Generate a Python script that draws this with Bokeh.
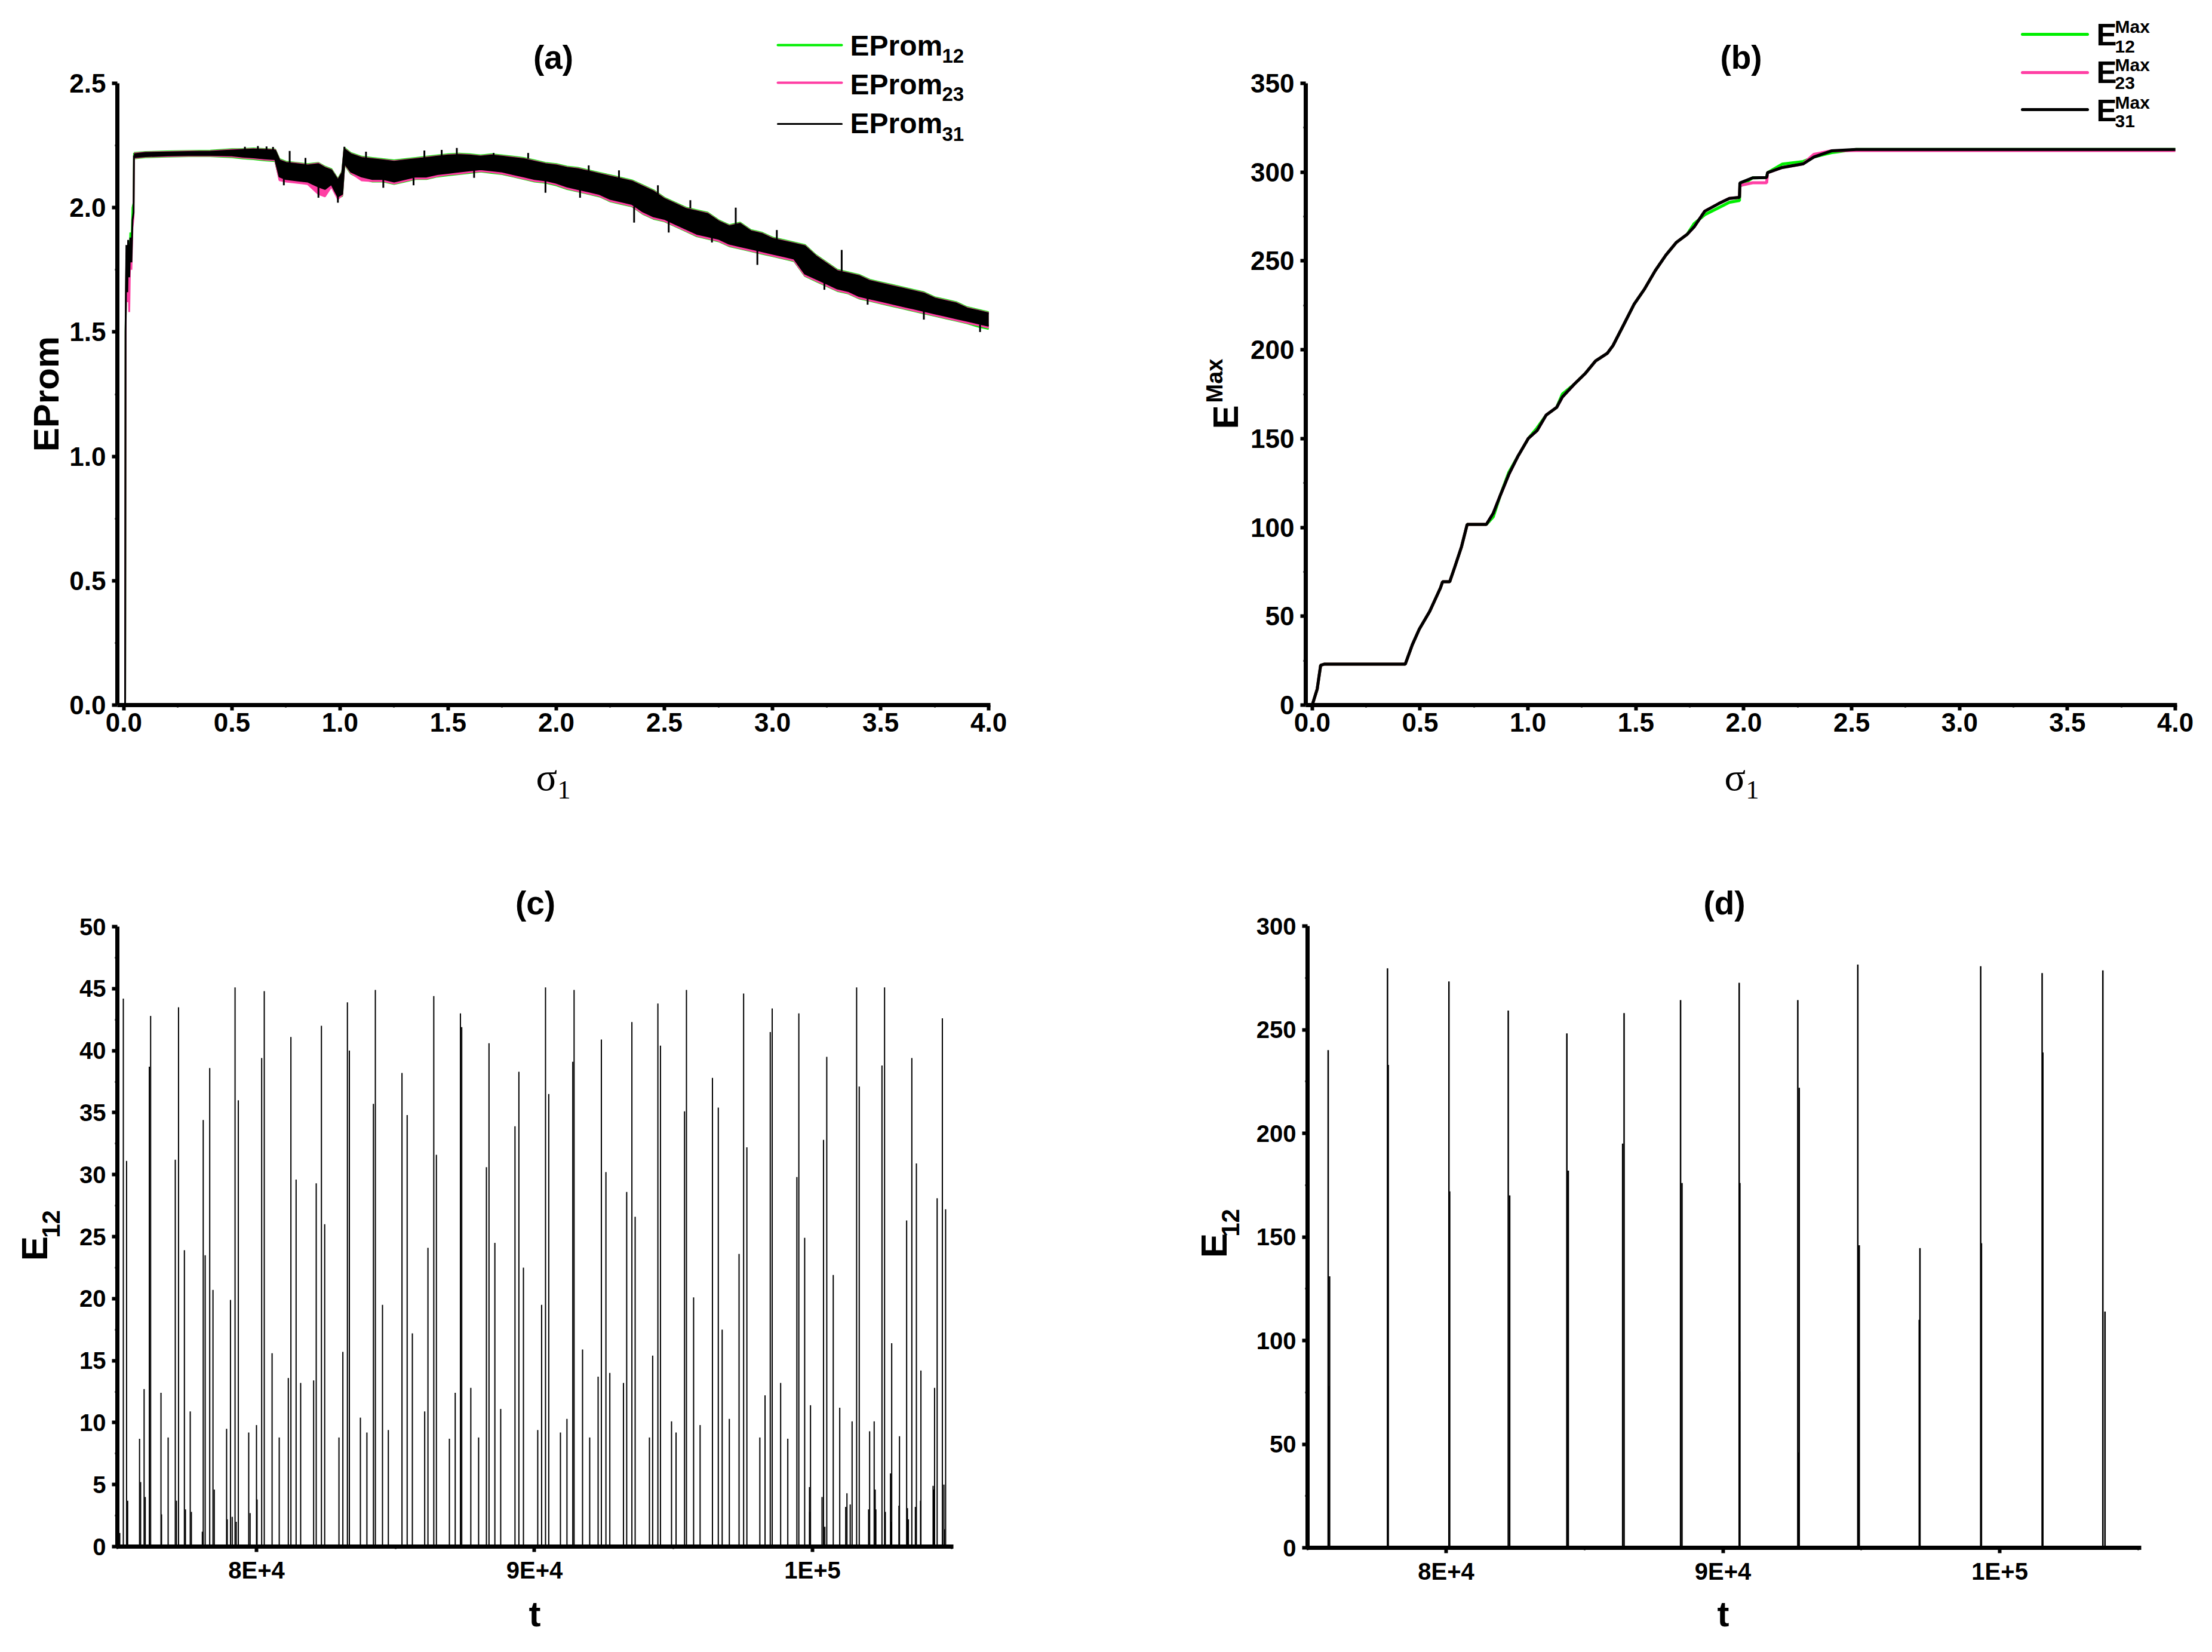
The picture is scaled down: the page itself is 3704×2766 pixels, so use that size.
from math import pi
from bokeh.plotting import figure
from bokeh.layouts import column, row
from bokeh.models import Range1d, FixedTicker, Label, Arrow, PrintfTickFormatter
from bokeh.embed import file_html
from bokeh.resources import INLINE

# ---------------- data: panel (a) ----------------
sigma_a_start = [0.000, 0.006, 0.008, 0.012, 0.016, 0.020, 0.025, 0.030, 0.035, 0.040, 0.045, 0.047]
eprom12_start = [0.0, 0.0, 1.50, 1.80, 1.70, 1.85, 1.75, 1.90, 1.85, 2.00, 2.02, 2.22]
eprom23_start = [0.0, 0.0, 1.48, 1.82, 1.62, 1.80, 1.58, 1.85, 1.75, 1.92, 1.96, 2.21]
eprom31_start = [0.0, 0.0, 1.50, 1.85, 1.66, 1.87, 1.72, 1.88, 1.78, 1.95, 1.98, 2.21]

sigma_band = [0.047, 0.10, 0.20, 0.30, 0.40, 0.50, 0.55, 0.60, 0.65, 0.70,
              0.72, 0.75, 0.80, 0.85, 0.90, 0.93, 0.96, 0.99, 1.01, 1.02,
              1.05, 1.10, 1.15, 1.20, 1.25, 1.30, 1.35, 1.40, 1.45, 1.50,
              1.55, 1.60, 1.65, 1.70, 1.75, 1.80, 1.85, 1.90, 1.95, 2.00,
              2.05, 2.10, 2.15, 2.20, 2.25, 2.30, 2.35, 2.40, 2.45, 2.50,
              2.55, 2.60, 2.65, 2.70, 2.75, 2.80, 2.85, 2.90, 2.95, 3.00,
              3.05, 3.10, 3.15, 3.20, 3.25, 3.30, 3.35, 3.40, 3.45, 3.50,
              3.55, 3.60, 3.65, 3.70, 3.75, 3.80, 3.85, 3.90, 3.95, 4.00]
eprom31_hi = [2.215, 2.220, 2.222, 2.224, 2.225, 2.230, 2.232, 2.234, 2.232, 2.230,
              2.190, 2.180, 2.175, 2.170, 2.175, 2.160, 2.150, 2.110, 2.140, 2.235,
              2.215, 2.200, 2.195, 2.190, 2.185, 2.190, 2.195, 2.200, 2.205, 2.210,
              2.212, 2.210, 2.205, 2.210, 2.205, 2.200, 2.195, 2.185, 2.175, 2.170,
              2.160, 2.155, 2.145, 2.135, 2.125, 2.115, 2.105, 2.085, 2.065, 2.035,
              2.015, 1.995, 1.985, 1.975, 1.945, 1.925, 1.935, 1.905, 1.895, 1.875,
              1.865, 1.855, 1.845, 1.805, 1.775, 1.745, 1.735, 1.725, 1.705, 1.695,
              1.685, 1.675, 1.665, 1.655, 1.635, 1.625, 1.615, 1.595, 1.585, 1.575]
eprom31_lo = [2.203, 2.207, 2.210, 2.212, 2.212, 2.210, 2.205, 2.202, 2.198, 2.195,
              2.125, 2.115, 2.110, 2.105, 2.085, 2.075, 2.095, 2.045, 2.055, 2.180,
              2.145, 2.125, 2.115, 2.115, 2.105, 2.115, 2.125, 2.125, 2.135, 2.140,
              2.145, 2.150, 2.155, 2.150, 2.145, 2.135, 2.125, 2.115, 2.110, 2.100,
              2.085, 2.075, 2.065, 2.055, 2.035, 2.025, 2.015, 1.985, 1.965, 1.955,
              1.935, 1.915, 1.895, 1.885, 1.875, 1.855, 1.845, 1.835, 1.825, 1.815,
              1.805, 1.795, 1.735, 1.715, 1.695, 1.675, 1.665, 1.645, 1.635, 1.625,
              1.615, 1.605, 1.595, 1.585, 1.575, 1.565, 1.555, 1.545, 1.535, 1.525]
eprom12_hi = [2.220, 2.224, 2.226, 2.228, 2.229, 2.235, 2.236, 2.238, 2.236, 2.234,
              2.195, 2.185, 2.180, 2.175, 2.180, 2.165, 2.155, 2.115, 2.145, 2.240,
              2.220, 2.205, 2.200, 2.195, 2.190, 2.195, 2.200, 2.205, 2.210, 2.215,
              2.217, 2.215, 2.210, 2.215, 2.210, 2.205, 2.200, 2.190, 2.180, 2.175,
              2.165, 2.160, 2.150, 2.140, 2.130, 2.120, 2.110, 2.090, 2.070, 2.040,
              2.020, 2.000, 1.990, 1.980, 1.950, 1.930, 1.940, 1.910, 1.900, 1.880,
              1.870, 1.860, 1.850, 1.810, 1.780, 1.750, 1.740, 1.730, 1.710, 1.700,
              1.690, 1.680, 1.670, 1.660, 1.640, 1.630, 1.620, 1.600, 1.590, 1.580]
eprom12_lo = [2.198, 2.203, 2.205, 2.207, 2.207, 2.203, 2.198, 2.195, 2.190, 2.187,
              2.115, 2.107, 2.102, 2.097, 2.077, 2.067, 2.087, 2.040, 2.047, 2.175,
              2.137, 2.115, 2.105, 2.105, 2.095, 2.105, 2.115, 2.115, 2.125, 2.130,
              2.135, 2.140, 2.145, 2.140, 2.135, 2.125, 2.115, 2.105, 2.100, 2.090,
              2.075, 2.065, 2.055, 2.045, 2.025, 2.015, 2.005, 1.975, 1.955, 1.945,
              1.925, 1.905, 1.885, 1.875, 1.865, 1.845, 1.835, 1.825, 1.815, 1.805,
              1.795, 1.785, 1.725, 1.705, 1.685, 1.665, 1.655, 1.635, 1.625, 1.615,
              1.605, 1.595, 1.585, 1.575, 1.565, 1.555, 1.545, 1.535, 1.522, 1.512]
eprom23_hi = [2.218, 2.222, 2.224, 2.226, 2.227, 2.233, 2.234, 2.236, 2.234, 2.232,
              2.192, 2.182, 2.178, 2.172, 2.178, 2.162, 2.152, 2.112, 2.142, 2.237,
              2.217, 2.202, 2.197, 2.192, 2.187, 2.192, 2.197, 2.202, 2.207, 2.212,
              2.214, 2.212, 2.207, 2.212, 2.207, 2.202, 2.197, 2.187, 2.177, 2.172,
              2.162, 2.157, 2.147, 2.137, 2.127, 2.117, 2.107, 2.087, 2.067, 2.037,
              2.017, 1.997, 1.987, 1.977, 1.947, 1.927, 1.937, 1.907, 1.897, 1.877,
              1.867, 1.857, 1.847, 1.807, 1.777, 1.747, 1.737, 1.727, 1.707, 1.697,
              1.687, 1.677, 1.667, 1.657, 1.637, 1.627, 1.617, 1.597, 1.587, 1.577]
eprom23_lo = [2.200, 2.205, 2.207, 2.209, 2.209, 2.206, 2.201, 2.198, 2.193, 2.190,
              2.110, 2.105, 2.100, 2.095, 2.055, 2.045, 2.085, 2.035, 2.050, 2.178,
              2.140, 2.110, 2.107, 2.107, 2.097, 2.107, 2.117, 2.117, 2.127, 2.133,
              2.137, 2.143, 2.147, 2.143, 2.137, 2.127, 2.117, 2.107, 2.103, 2.093,
              2.077, 2.067, 2.057, 2.047, 2.027, 2.017, 2.007, 1.977, 1.957, 1.947,
              1.927, 1.907, 1.887, 1.877, 1.867, 1.847, 1.837, 1.827, 1.817, 1.807,
              1.797, 1.787, 1.727, 1.707, 1.687, 1.667, 1.657, 1.637, 1.627, 1.617,
              1.607, 1.597, 1.587, 1.577, 1.567, 1.557, 1.547, 1.537, 1.527, 1.517]

# individual noise spikes sticking out of the EProm31 band (sigma, band edge, tip)
spike_sigma = [0.56, 0.62, 0.66, 0.69, 0.767, 0.84, 1.02, 1.12, 1.39, 1.47, 1.54, 1.71, 1.87,
               2.15, 2.29, 2.47, 2.62, 2.83, 3.02, 3.32,
               0.74, 0.90, 0.99, 1.20, 1.34, 1.62, 1.95, 2.11, 2.36, 2.52, 2.72, 2.93, 3.24,
               3.44, 3.70, 3.96]
spike_base = [2.232, 2.234, 2.232, 2.230, 2.178, 2.172, 2.235, 2.198, 2.200, 2.208, 2.212,
              2.208, 2.197, 2.145, 2.115, 2.055, 1.997, 1.930, 1.872, 1.745,
              2.120, 2.085, 2.045, 2.115, 2.120, 2.150, 2.110, 2.075, 2.005, 1.950,
              1.885, 1.835, 1.705, 1.650, 1.585, 1.530]
spike_tip = [2.245, 2.248, 2.246, 2.244, 2.228, 2.200, 2.245, 2.225, 2.230, 2.232, 2.240,
             2.220, 2.220, 2.170, 2.150, 2.090, 2.030, 2.000, 1.910, 1.830,
             2.090, 2.040, 2.020, 2.080, 2.090, 2.120, 2.060, 2.040, 1.940, 1.900,
             1.860, 1.770, 1.670, 1.610, 1.550, 1.500]

# ---------------- data: panel (b) ----------------
sigma_b = [0.000, 0.023, 0.039, 0.055, 0.431, 0.464, 0.496, 0.545, 0.594, 0.604,
           0.637, 0.660, 0.692, 0.718, 0.807, 0.839, 0.872, 0.911, 0.953, 1.002,
           1.042, 1.084, 1.133, 1.159, 1.215, 1.264, 1.313, 1.368, 1.394, 1.443,
           1.492, 1.541, 1.590, 1.639, 1.688, 1.737, 1.770, 1.819, 1.884, 1.933,
           1.980, 1.982, 2.041, 2.106, 2.110, 2.178, 2.276, 2.325, 2.407, 2.521, 4.000]
emax31 = [0.0, 9.0, 22.4, 23.0, 23.0, 34.0, 42.7, 52.9, 65.9, 69.4,
          69.4, 77.5, 89.2, 101.7, 101.7, 108.0, 118.2, 129.8, 140.0, 150.2,
          154.5, 163.2, 167.6, 173.4, 180.7, 186.5, 193.7, 198.1, 202.4, 214.0,
          225.7, 234.4, 244.6, 253.3, 260.5, 264.9, 269.2, 278.0, 282.3, 285.2,
          285.8, 293.9, 296.8, 297.0, 299.7, 302.6, 304.7, 308.5, 312.0, 312.8, 312.8]
emax12 = [0.0, 9.0, 22.4, 23.0, 23.0, 34.0, 42.7, 52.9, 65.9, 69.4,
          69.4, 77.5, 89.2, 101.7, 101.7, 106.0, 118.2, 131.0, 140.0, 150.2,
          156.0, 163.2, 167.6, 175.0, 180.7, 186.5, 193.7, 198.1, 202.4, 214.0,
          225.7, 234.4, 244.6, 253.3, 260.5, 264.9, 271.0, 276.0, 280.0, 283.0,
          284.0, 292.0, 296.8, 297.0, 299.7, 304.5, 306.0, 308.5, 311.0, 312.8, 312.8]
emax23 = [0.0, 9.0, 22.4, 23.0, 23.0, 34.0, 42.7, 52.9, 65.9, 69.4,
          69.4, 77.5, 89.2, 101.7, 101.7, 108.0, 118.2, 129.8, 140.0, 150.2,
          154.5, 163.2, 167.6, 173.4, 180.7, 186.5, 193.7, 198.1, 202.4, 214.0,
          225.7, 234.4, 244.6, 253.3, 260.5, 264.9, 269.2, 278.0, 282.3, 285.2,
          285.8, 292.5, 294.0, 294.0, 299.7, 302.6, 304.7, 310.0, 312.0, 312.2, 312.2]

# ---------------- data: panel (c) ----------------
t_c = [75210, 75327, 75794, 75958, 76145, 76192, 76565, 76822, 77079, 77196,
       77407, 77617, 78084, 78154, 78318, 78435, 78925, 79065, 79229, 79346,
       79720, 80000, 80187, 80280, 80561, 80818, 81145, 81238, 81425, 81589,
       82056, 82149, 82336, 82453, 82967, 83107, 83271, 83341, 83738, 83972,
       84206, 84276, 84533, 84743, 85234, 85420, 85607, 86051, 86168, 86378,
       86472, 86939, 87149, 87336, 87383, 87710, 87990, 88271, 88364, 88575,
       88785, 89299, 89439, 89603, 90117, 90257, 90397, 90514, 90934, 91168,
       91378, 91425, 91729, 91986, 92289, 92406, 92570, 92710, 93201, 93317,
       93504, 93621, 94135, 94252, 94439, 94532, 94930, 95093, 95397, 95467,
       95724, 95958, 96402, 96612, 96752, 97009, 97359, 97523, 97640, 98107,
       98294, 98481, 98551, 98855, 99112, 99439, 99509, 99719, 99929, 100397,
       100514, 100747, 100981, 101425, 101588, 101682, 102056, 102219, 102500, 102593,
       102850, 103130, 103387, 103574, 103738, 103901, 104392, 104485, 104672, 104789]
e12_c = [44.2, 31.1, 8.7, 12.7, 38.7, 42.8, 12.4, 8.8, 31.2, 43.5,
         23.9, 10.9, 34.4, 23.5, 38.6, 20.7, 9.5, 19.9, 45.1, 36.0,
         9.2, 9.8, 39.4, 44.8, 15.6, 8.8, 13.6, 41.1, 29.6, 13.2,
         13.4, 29.3, 42.0, 26.0, 8.8, 15.7, 43.9, 40.0, 10.4, 9.2,
         35.7, 44.9, 19.5, 9.4, 38.2, 34.8, 17.2, 10.9, 24.1, 44.4,
         31.6, 8.7, 12.4, 43.0, 41.9, 12.8, 8.8, 30.6, 40.6, 24.5,
         11.1, 33.9, 38.3, 22.5, 9.4, 19.5, 45.1, 36.5, 9.2, 10.3,
         39.1, 44.9, 15.9, 8.8, 13.7, 40.9, 30.2, 14.0, 13.2, 28.6,
         42.3, 26.6, 8.8, 15.4, 43.8, 40.4, 10.1, 9.2, 35.1, 44.9,
         20.1, 9.8, 37.8, 35.4, 17.5, 10.3, 23.6, 44.6, 32.2, 8.8,
         12.2, 41.5, 43.4, 13.2, 8.7, 29.8, 43.0, 24.9, 11.4, 32.8,
         39.5, 21.9, 11.2, 10.1, 45.1, 37.1, 9.3, 10.1, 38.8, 45.1,
         16.4, 8.9, 26.3, 39.4, 30.9, 14.2, 12.8, 28.1, 42.6, 27.2]
# small oscillations near zero (read from the bottom strip)
t_c_small = [75081, 75366, 75832, 75998, 76584, 77121, 77444, 77658, 78052, 78481,
             78947, 79126, 79270, 79770, 80021, 99893, 99900, 100344, 100444, 101196,
             101240, 101357, 102019, 102255, 102280, 102620, 102807, 102830, 103110, 103416,
             103450, 103702, 103888, 104339, 104360, 104727, 104745]
e12_c_small = [1.1, 3.7, 5.2, 4.0, 2.6, 3.7, 3.0, 2.8, 1.2, 4.6,
               2.2, 2.4, 2.0, 2.7, 3.8, 4.8, 2.8, 4.0, 1.6, 3.2,
               4.3, 3.4, 3.0, 4.6, 3.0, 2.8, 5.9, 2.0, 3.3, 3.1,
               2.2, 3.2, 3.7, 4.9, 4.6, 5.0, 1.4]

# ---------------- data: panel (d) ----------------
t_d = [75740, 75791, 75765, 77883, 77909, 80102, 80128, 82245, 82296, 84362, 84413,
       86429, 86378, 88469, 88520, 90587, 90612, 90600, 92704, 92755, 92730,
       94872, 94923, 94900, 97117, 97092, 99311, 99337, 99325, 101530, 101556,
       103724, 103801]
e12_d = [240.1, 131.0, 78.0, 279.6, 233.0, 273.3, 172.0, 259.2, 170.0, 248.2, 182.0,
         258.0, 195.0, 264.3, 176.0, 272.6, 176.0, 85.0, 264.3, 222.0, 46.0,
         281.4, 146.0, 82.0, 144.6, 110.0, 280.6, 147.0, 49.0, 277.3, 239.0,
         278.6, 114.0]

# ---------------- ticks ----------------
sigma_ticks = [0.0, 0.5, 1.0, 1.5, 2.0, 2.5, 3.0, 3.5, 4.0]
sigma_minor = [0.25, 0.75, 1.25, 1.75, 2.25, 2.75, 3.25, 3.75]
eprom_ticks = [0.0, 0.5, 1.0, 1.5, 2.0, 2.5]
eprom_minor = [0.25, 0.75, 1.25, 1.75, 2.25]
emax_ticks = [0, 50, 100, 150, 200, 250, 300, 350]
emax_minor = [25, 75, 125, 175, 225, 275, 325]
ec_ticks = [0, 5, 10, 15, 20, 25, 30, 35, 40, 45, 50]
ec_minor = [2.5, 7.5, 12.5, 17.5, 22.5, 27.5, 32.5, 37.5, 42.5, 47.5]
ed_ticks = [0, 50, 100, 150, 200, 250, 300]
ed_minor = [25, 75, 125, 175, 225, 275]
t_ticks = [80000, 90000, 100000]
t_minor = [75000, 85000, 95000, 105000]
t_labels = {80000: "8E+4", 90000: "9E+4", 100000: "1E+5"}

GREEN = "#00ee00"
PINK = "#ff3fa4"
SANS = "Liberation Sans"
SERIF = "Liberation Serif"

W, H = 1852, 1383


def make_fig(origin, area, xdata, ydata):
    """origin: figure top-left on page; area: plot-area (L, R, T, B) on page;
    xdata/ydata: data values at the plot-area edges."""
    ox, oy = origin
    L, R, T, B = area
    l, r, t, b = L - ox, R - ox, T - oy, B - oy
    x0, x1 = xdata
    y0, y1 = ydata
    sx = (r - l) / (x1 - x0)
    sy = (b - t) / (y1 - y0)
    xr = Range1d(x0 - l / sx, x1 + (W - r) / sx)
    yr = Range1d(y0 - (H - b) / sy, y1 + t / sy)
    p = figure(width=W, height=H, x_range=xr, y_range=yr,
               output_backend="svg", toolbar_location=None, title=None,
               min_border=0, min_border_left=0, min_border_right=0,
               min_border_top=0, min_border_bottom=0)
    p.outline_line_color = None
    p.xgrid.visible = False
    p.ygrid.visible = False
    p.background_fill_color = "white"
    p.border_fill_color = "white"
    xa, ya = p.xaxis[0], p.yaxis[0]
    xa.fixed_location = y0
    ya.fixed_location = x0
    xa.bounds = (x0, x1)
    ya.bounds = (y0, y1)
    return p


def style_axes(p, fs, xstand, ystand):
    for ax in (p.xaxis[0], p.yaxis[0]):
        ax.axis_line_width = 7
        ax.axis_line_color = "black"
        ax.major_tick_line_width = 6
        ax.major_tick_out = 9
        ax.major_tick_in = 0
        ax.minor_tick_line_width = 3
        ax.minor_tick_out = 4
        ax.minor_tick_in = 0
        ax.major_label_text_font = SANS
        ax.major_label_text_font_style = "bold"
        ax.major_label_text_font_size = f"{fs}px"
        ax.major_label_text_color = "black"
    p.xaxis[0].major_label_standoff = xstand
    p.yaxis[0].major_label_standoff = ystand


class Placer:
    """Places annotations by page coordinates (frame == whole figure canvas)."""
    def __init__(self, p, origin):
        self.p = p
        self.ox, self.oy = origin

    def text(self, X, Y, txt, size, font=SANS, bold=True, align="left",
             baseline="middle", angle=0.0):
        self.p.add_layout(Label(x=X - self.ox, y=self.oy + H - Y, x_units="screen", y_units="screen",
                                text=txt, text_font=font, text_font_size=f"{size}px",
                                text_font_style="bold" if bold else "normal",
                                text_align=align, text_baseline=baseline, angle=angle,
                                text_color="black"))

    def hline(self, X0, X1, Y, color, width):
        self.p.add_layout(Arrow(end=None, x_start=X0 - self.ox, y_start=self.oy + H - Y,
                                x_end=X1 - self.ox, y_end=self.oy + H - Y,
                                start_units="screen", end_units="screen",
                                line_color=color, line_width=width, line_cap="round"))


# ================= panel (a) =================
OA = (0, 0)
pa = make_fig(OA, (196, 1658, 139, 1180), (-0.03, 4.008), (0.0, 2.5))
for ys_start, hi, lo, col in ((eprom12_start, eprom12_hi, eprom12_lo, GREEN),
                              (eprom23_start, eprom23_hi, eprom23_lo, PINK),
                              (eprom31_start, eprom31_hi, eprom31_lo, "black")):
    pa.line(sigma_a_start, ys_start, line_color=col, line_width=3)
    pa.varea(x=sigma_band, y1=lo, y2=hi, fill_color=col)
    pa.line(sigma_band, hi, line_color=col, line_width=3)
    pa.line(sigma_band, lo, line_color=col, line_width=3)
pa.segment(x0=spike_sigma, y0=spike_base, x1=spike_sigma, y1=spike_tip,
           line_color="black", line_width=3)
pa.xaxis[0].ticker = FixedTicker(ticks=sigma_ticks, minor_ticks=sigma_minor)
pa.yaxis[0].ticker = FixedTicker(ticks=eprom_ticks, minor_ticks=eprom_minor)
pa.xaxis[0].formatter = PrintfTickFormatter(format="%.1f")
pa.yaxis[0].formatter = PrintfTickFormatter(format="%.1f")
style_axes(pa, 44, 4, 10)
A = Placer(pa, OA)
A.text(926, 95, "(a)", 55, align="center")
A.text(77, 659, "EProm", 60, align="center", angle=pi / 2)
A.text(897, 1300, "σ", 66, font=SERIF, bold=False)
A.text(933, 1322, "1", 44, font=SERIF, bold=False)
A.hline(1302, 1409, 75, GREEN, 4)
A.hline(1302, 1409, 138, PINK, 4)
A.hline(1302, 1409, 207, "black", 3)
for ym, ys, txt in ((76, 93, "12"), (141, 157, "23"), (206, 224, "31")):
    A.text(1423, ym, "EProm", 48)
    A.text(1577, ys, txt, 33)

# ================= panel (b) =================
OB = (W, 0)
pb = make_fig(OB, (2186, 3645, 139, 1180), (-0.03, 4.008), (0, 350))
pb.line(sigma_b, emax12, line_color=GREEN, line_width=5)
pb.line(sigma_b, emax23, line_color=PINK, line_width=5)
pb.line(sigma_b, emax31, line_color="black", line_width=5)
pb.xaxis[0].ticker = FixedTicker(ticks=sigma_ticks, minor_ticks=sigma_minor)
pb.yaxis[0].ticker = FixedTicker(ticks=emax_ticks, minor_ticks=emax_minor)
pb.xaxis[0].formatter = PrintfTickFormatter(format="%.1f")
pb.yaxis[0].formatter = PrintfTickFormatter(format="%d")
style_axes(pb, 44, 4, 10)
B = Placer(pb, OB)
B.text(2915, 95, "(b)", 55, align="center")
B.text(2052, 698, "E", 60, align="center", angle=pi / 2)
B.text(2033, 637, "Max", 38, align="center", angle=pi / 2)
B.text(2887, 1300, "σ", 66, font=SERIF, bold=False)
B.text(2923, 1322, "1", 44, font=SERIF, bold=False)
B.hline(3386, 3495, 57, GREEN, 5)
B.hline(3386, 3495, 121, PINK, 5)
B.hline(3386, 3495, 183, "black", 5)
for ye, ym, ys, txt in ((58, 44, 77, "12"), (121, 108, 138, "23"), (185, 171, 202, "31")):
    B.text(3510, ye, "E", 51)
    B.text(3541, ym, "Max", 30)
    B.text(3541, ys, txt, 30)

# ================= panel (c) =================
OC = (0, H)
pc = make_fig(OC, (196, 1596, 1551, 2589), (74995, 105070), (0, 50))
pc.segment(x0=t_c, y0=[0] * len(t_c), x1=t_c, y1=e12_c, line_color="black", line_width=2)
pc.segment(x0=t_c_small, y0=[0] * len(t_c_small), x1=t_c_small, y1=e12_c_small,
           line_color="black", line_width=2)
pc.xaxis[0].ticker = FixedTicker(ticks=t_ticks, minor_ticks=t_minor)
pc.yaxis[0].ticker = FixedTicker(ticks=ec_ticks, minor_ticks=ec_minor)
pc.xaxis[0].major_label_overrides = t_labels
pc.yaxis[0].formatter = PrintfTickFormatter(format="%d")
style_axes(pc, 40, 8, 10)
C = Placer(pc, OC)
C.text(896, 1511, "(c)", 55, align="center")
C.text(57, 2090, "E", 62, align="center", angle=pi / 2)
C.text(85, 2049, "12", 42, align="center", angle=pi / 2)
C.text(895, 2702, "t", 60, align="center")

# ================= panel (d) =================
OD = (W, H)
pd_ = make_fig(OD, (2189, 3585, 1550, 2591), (74995, 105110), (0, 300))
pd_.segment(x0=t_d, y0=[0] * len(t_d), x1=t_d, y1=e12_d, line_color="black", line_width=2.5)
pd_.xaxis[0].ticker = FixedTicker(ticks=t_ticks, minor_ticks=t_minor)
pd_.yaxis[0].ticker = FixedTicker(ticks=ed_ticks, minor_ticks=ed_minor)
pd_.xaxis[0].major_label_overrides = t_labels
pd_.yaxis[0].formatter = PrintfTickFormatter(format="%d")
style_axes(pd_, 40, 8, 10)
D = Placer(pd_, OD)
D.text(2887, 1511, "(d)", 55, align="center")
D.text(2032, 2085, "E", 62, align="center", angle=pi / 2)
D.text(2060, 2047, "12", 42, align="center", angle=pi / 2)
D.text(2885, 2702, "t", 60, align="center")

layout = column(row(pa, pb), row(pc, pd_))
open("out.html", "w").write(file_html(layout, INLINE))
